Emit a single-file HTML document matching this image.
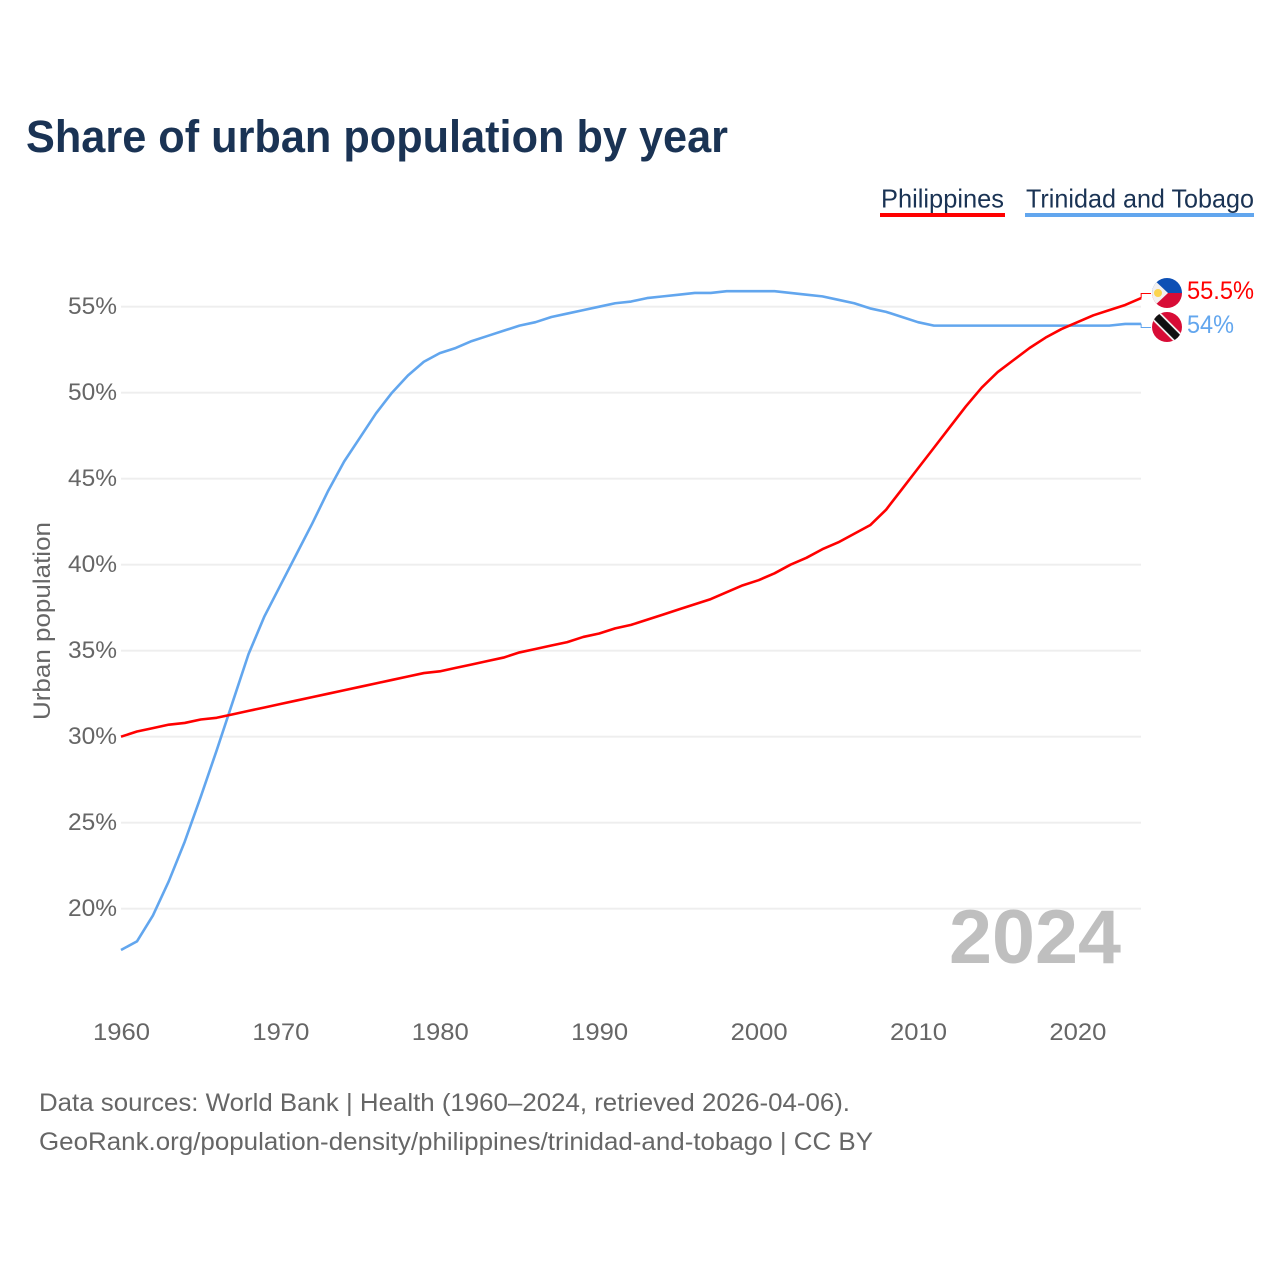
<!DOCTYPE html>
<html lang="en">
<head>
<meta charset="utf-8">
<title>Share of urban population by year</title>
<style>
html,body{margin:0;padding:0;background:#fff;width:1280px;height:1280px;overflow:hidden}
svg{display:block}
text{font-family:"Liberation Sans",sans-serif}
</style>
</head>
<body>
<svg id="chart" width="1280" height="1280" viewBox="0 0 1280 1280" xmlns="http://www.w3.org/2000/svg">
  <defs>
    <clipPath id="ph-clip"><circle cx="1167" cy="293" r="15"/></clipPath>
    <clipPath id="tt-clip"><circle cx="1167" cy="327" r="15"/></clipPath>
  </defs>
  <rect width="1280" height="1280" fill="#fff"/>
  <text x="26" y="152" font-size="45" font-weight="700" fill="#1a3354" textLength="702" lengthAdjust="spacingAndGlyphs">Share of urban population by year</text>

  <g>
    <text x="881" y="207.5" font-size="26" fill="#1a3354" textLength="123" lengthAdjust="spacingAndGlyphs">Philippines</text>
    <rect x="880" y="213" width="125" height="4" fill="#ff0000"/>
  </g>
  <g>
    <text x="1026" y="207.5" font-size="26" fill="#1a3354" textLength="228" lengthAdjust="spacingAndGlyphs">Trinidad and Tobago</text>
    <rect x="1025" y="213" width="229" height="4" fill="#62a6ee"/>
  </g>

  <g id="grid"></g>
  <g id="yticks"></g>
  <g id="xticks"></g>

  <text transform="translate(50,621) rotate(-90)" text-anchor="middle" font-size="24" fill="#666" textLength="198" lengthAdjust="spacingAndGlyphs">Urban population</text>

  <text x="949" y="963" font-size="76" font-weight="700" fill="#bfbfbf" textLength="172" lengthAdjust="spacingAndGlyphs">2024</text>

  <g id="series"></g>

  <g clip-path="url(#ph-clip)">
    <rect x="1150" y="276" width="34" height="17" fill="#0d50b5"/>
    <rect x="1150" y="293" width="34" height="17" fill="#d80c36"/>
    <polygon points="1150,276 1168,293 1150,310" fill="#f2f0f0"/>
    <circle cx="1158" cy="293" r="4" fill="#fcd44f"/>
  </g>
  <g clip-path="url(#tt-clip)">
    <rect x="1150" y="310" width="34" height="34" fill="#d80c36"/>
    <line x1="1150" y1="310" x2="1184" y2="344" stroke="#f2f0f0" stroke-width="11"/>
    <line x1="1150" y1="310" x2="1184" y2="344" stroke="#111" stroke-width="7.5"/>
  </g>

  <text x="1187" y="299" font-size="25" fill="#ff0000" textLength="67" lengthAdjust="spacingAndGlyphs">55.5%</text>
  <text x="1187" y="333" font-size="25" fill="#62a6ee" textLength="47" lengthAdjust="spacingAndGlyphs">54%</text>

  <text x="39" y="1111" font-size="25" fill="#666" textLength="811" lengthAdjust="spacingAndGlyphs">Data sources: World Bank | Health (1960–2024, retrieved 2026-04-06).</text>
  <text x="39" y="1150" font-size="25" fill="#666" textLength="834" lengthAdjust="spacingAndGlyphs">GeoRank.org/population-density/philippines/trinidad-and-tobago | CC BY</text>
</svg>
<script>
const startYear = 1960;
const philippinesValues = [30.0,30.3,30.5,30.7,30.8,31.0,31.1,31.3,31.5,31.7,31.9,32.1,32.3,32.5,32.7,32.9,33.1,33.3,33.5,33.7,33.8,34.0,34.2,34.4,34.6,34.9,35.1,35.3,35.5,35.8,36.0,36.3,36.5,36.8,37.1,37.4,37.7,38.0,38.4,38.8,39.1,39.5,40.0,40.4,40.9,41.3,41.8,42.3,43.2,44.4,45.6,46.8,48.0,49.2,50.3,51.2,51.9,52.6,53.2,53.7,54.1,54.5,54.8,55.1,55.5];
const trinidadValues = [17.6,18.1,19.6,21.6,23.9,26.5,29.2,32.0,34.8,37.0,38.8,40.6,42.4,44.3,46.0,47.4,48.8,50.0,51.0,51.8,52.3,52.6,53.0,53.3,53.6,53.9,54.1,54.4,54.6,54.8,55.0,55.2,55.3,55.5,55.6,55.7,55.8,55.8,55.9,55.9,55.9,55.9,55.8,55.7,55.6,55.4,55.2,54.9,54.7,54.4,54.1,53.9,53.9,53.9,53.9,53.9,53.9,53.9,53.9,53.9,53.9,53.9,53.9,54.0,54.0];
const yTickValues = [20,25,30,35,40,45,50,55];
const xTickYears = [1960,1970,1980,1990,2000,2010,2020];

const NS = 'http://www.w3.org/2000/svg';
function xScale(year) { return 121 + (year - 1960) * 15.94; }
function yScale(value) { return 908.7 - (value - 20) * 17.2; }

const grid = document.getElementById('grid');
const yticks = document.getElementById('yticks');
const xticks = document.getElementById('xticks');
const series = document.getElementById('series');

yTickValues.forEach(function (v) {
  const line = document.createElementNS(NS, 'line');
  line.setAttribute('x1', 121);
  line.setAttribute('x2', 1141);
  line.setAttribute('y1', yScale(v));
  line.setAttribute('y2', yScale(v));
  line.setAttribute('stroke', '#eeeeee');
  line.setAttribute('stroke-width', 1.8);
  
  
  grid.appendChild(line);

  const label = document.createElementNS(NS, 'text');
  label.setAttribute('x', 117);
  label.setAttribute('y', yScale(v) + 7.5);
  label.setAttribute('text-anchor', 'end');
  label.setAttribute('font-size', 24);
  label.setAttribute('fill', '#666');
  label.setAttribute('textLength', 49);
  label.setAttribute('lengthAdjust', 'spacingAndGlyphs');
  label.textContent = v + '%';
  
  
  yticks.appendChild(label);
});

xTickYears.forEach(function (y) {
  const label = document.createElementNS(NS, 'text');
  label.setAttribute('x', xScale(y) + 0.5);
  label.setAttribute('y', 1040);
  label.setAttribute('text-anchor', 'middle');
  label.setAttribute('font-size', 24);
  label.setAttribute('fill', '#666');
  label.setAttribute('textLength', 57);
  label.setAttribute('lengthAdjust', 'spacingAndGlyphs');
  label.textContent = y;
  
  
  xticks.appendChild(label);
});

function drawSeries(values, color) {
  const d = values.map(function (v, i) {
    return (i ? 'L' : 'M') + xScale(startYear + i).toFixed(2) + ' ' + yScale(v).toFixed(2);
  }).join(' ');
  const path = document.createElementNS(NS, 'path');
  path.setAttribute('d', d);
  path.setAttribute('fill', 'none');
  path.setAttribute('stroke', color);
  path.setAttribute('stroke-width', 2.6);
  path.setAttribute('stroke-linejoin', 'round');
  return path;
}

function drawConnector(values, color, targetY) {
  const lastX = xScale(startYear + values.length - 1);
  const lastY = yScale(values[values.length - 1]);
  const path = document.createElementNS(NS, 'path');
  path.setAttribute('d', 'M' + lastX + ' ' + lastY + ' V' + targetY + ' H1151');
  path.setAttribute('fill', 'none');
  path.setAttribute('stroke', color);
  path.setAttribute('stroke-width', 1);
  return path;
}

const trinidadLine = drawSeries(trinidadValues, '#62a6ee');


series.appendChild(trinidadLine);

const philippinesLine = drawSeries(philippinesValues, '#ff0000');


series.appendChild(philippinesLine);

const trinidadConnector = drawConnector(trinidadValues, '#62a6ee', 327.5);


series.appendChild(trinidadConnector);

const philippinesConnector = drawConnector(philippinesValues, '#ff0000', 293.5);


series.appendChild(philippinesConnector);
</script>
</body>
</html>
